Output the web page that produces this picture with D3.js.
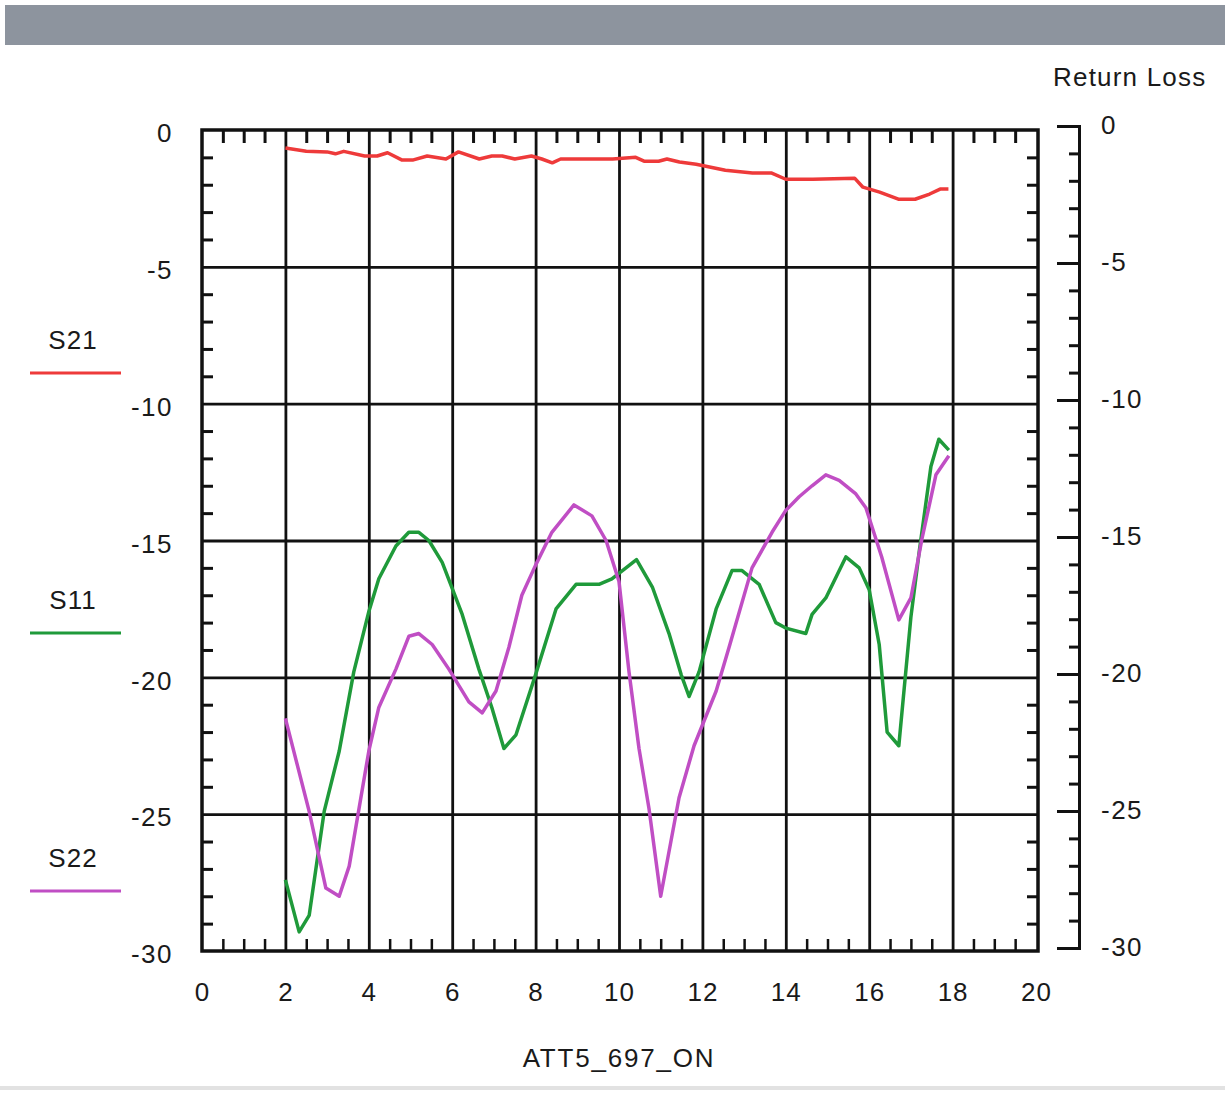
<!DOCTYPE html>
<html>
<head>
<meta charset="utf-8">
<script src="https://cdn.jsdelivr.net/npm/d3@7"></script>
<style>
  body { margin: 0; background: #fff; }
  text { font-family: "Liberation Sans", Arial, sans-serif; fill: #1a1a1a; }
  .axis path, .axis line { stroke: #111; }
</style>
</head>
<body>
<div id="chart"></div>
<script>
// Data (frequency in GHz, level in dB)
var xTicks = [0, 2, 4, 6, 8, 10, 12, 14, 16, 18, 20];
var yTicks = [0, -5, -10, -15, -20, -25, -30];
var seriesNames = ["S21", "S11", "S22"];
var seriesColors = ["#ee3a3a", "#1f9a3a", "#c04ec4"];

var s21Freq = [2.0, 2.5, 3.0, 3.2, 3.4, 3.9, 4.2, 4.45, 4.8, 5.05, 5.4, 5.85, 6.15, 6.65, 6.95, 7.2, 7.5, 7.9, 8.15, 8.4, 8.6, 9.5, 9.85, 10.4, 10.6, 10.95, 11.15, 11.45, 11.85, 12.55, 13.2, 13.65, 14.0, 14.65, 15.65, 15.85, 16.25, 16.7, 17.1, 17.45, 17.7, 17.9];
var s21 = [-0.66, -0.78, -0.8, -0.87, -0.78, -0.95, -0.95, -0.83, -1.1, -1.1, -0.95, -1.06, -0.8, -1.06, -0.95, -0.95, -1.06, -0.95, -1.06, -1.2, -1.06, -1.06, -1.06, -1.0, -1.14, -1.14, -1.06, -1.17, -1.25, -1.47, -1.57, -1.57, -1.8, -1.8, -1.76, -2.09, -2.27, -2.53, -2.53, -2.34, -2.16, -2.16];

var s11Freq = [2.0, 2.33, 2.57, 2.93, 3.29, 3.64, 4.0, 4.24, 4.65, 4.96, 5.2, 5.44, 5.76, 6.24, 6.64, 6.95, 7.24, 7.53, 8.0, 8.49, 8.97, 9.52, 9.83, 10.42, 10.8, 11.2, 11.49, 11.68, 11.92, 12.33, 12.71, 12.95, 13.36, 13.76, 14.0, 14.48, 14.63, 14.96, 15.44, 15.76, 16.0, 16.24, 16.43, 16.71, 17.0, 17.2, 17.48, 17.67, 17.91];
var s11 = [-27.4, -29.3, -28.7, -24.9, -22.7, -19.8, -17.6, -16.4, -15.2, -14.7, -14.7, -15.0, -15.8, -17.7, -19.7, -21.1, -22.6, -22.1, -19.9, -17.5, -16.6, -16.6, -16.4, -15.7, -16.7, -18.4, -19.9, -20.7, -19.8, -17.5, -16.1, -16.1, -16.6, -18.0, -18.2, -18.4, -17.7, -17.1, -15.6, -16.0, -16.8, -18.8, -22.0, -22.5, -17.8, -15.4, -12.3, -11.3, -11.7];

var s22Freq = [2.0, 2.57, 2.97, 3.29, 3.53, 4.0, 4.24, 4.65, 4.96, 5.2, 5.52, 5.92, 6.4, 6.72, 7.05, 7.36, 7.67, 8.0, 8.39, 8.92, 9.35, 9.69, 10.0, 10.24, 10.48, 10.72, 11.0, 11.44, 11.8, 12.33, 12.64, 13.19, 13.67, 14.0, 14.32, 14.63, 14.96, 15.28, 15.68, 15.92, 16.3, 16.71, 17.0, 17.27, 17.6, 17.91];
var s22 = [-21.5, -24.9, -27.7, -28.0, -26.9, -22.7, -21.1, -19.7, -18.5, -18.4, -18.8, -19.7, -20.9, -21.3, -20.5, -18.9, -17.0, -15.9, -14.7, -13.7, -14.1, -15.0, -16.5, -19.8, -22.6, -24.8, -28.0, -24.4, -22.5, -20.5, -18.9, -16.0, -14.7, -13.9, -13.4, -13.0, -12.6, -12.8, -13.3, -13.8, -15.6, -17.9, -17.1, -14.9, -12.6, -11.9];

// Chart area
var svgWidth = 1225;
var svgHeight = 1093;
var margin = { top: 130, right: 187, bottom: 142, left: 202 };
var width = svgWidth - margin.left - margin.right;   // 836
var height = svgHeight - margin.top - margin.bottom; // 821

var svg = d3.select("#chart")
  .append("svg")
  .attr("width", svgWidth)
  .attr("height", svgHeight);

// grey header band + faint footer line
svg.append("rect").attr("x", 5).attr("y", 5).attr("width", 1220).attr("height", 40).attr("fill", "#8d949e");
svg.append("rect").attr("x", 0).attr("y", 1086).attr("width", 1225).attr("height", 4).attr("fill", "#e2e2e2");

var chartGroup = svg.append("g")
  .attr("transform", `translate(${margin.left}, ${margin.top})`);

// Scales
var xScale = d3.scaleLinear().domain([0, 20]).range([0, width - 2]);
var yScale = d3.scaleLinear().domain([-30, 0]).range([height, 0]);
var fmt = d => String(d); // plain hyphen, not unicode minus

// Grid lines (major)
chartGroup.append("g")
  .attr("class", "axis")
  .attr("transform", `translate(0, ${height})`)
  .call(d3.axisBottom(xScale).tickValues(d3.range(2, 19, 2)).tickSize(-height).tickFormat(""))
  .call(g => g.select(".domain").remove())
  .selectAll("line").attr("stroke-width", 2.8);

chartGroup.append("g")
  .attr("class", "axis")
  .call(d3.axisLeft(yScale).tickValues([-5, -10, -15, -20, -25]).tickSize(-width).tickFormat(""))
  .call(g => g.select(".domain").remove())
  .selectAll("line").attr("stroke-width", 2.8);

// Minor inward ticks on all four sides of the frame
var xMinor = d3.range(0.5, 20, 0.5).filter(v => v % 2 !== 0);
var yMinor = d3.range(-29, 0, 1).filter(v => v % 5 !== 0);

chartGroup.append("g").attr("class", "axis")
  .call(d3.axisBottom(xScale).tickValues(xMinor).tickSize(13).tickFormat(""))
  .call(g => g.select(".domain").remove())
  .selectAll("line").attr("stroke-width", 3);

chartGroup.append("g").attr("class", "axis")
  .attr("transform", `translate(0, ${height})`)
  .call(d3.axisTop(xScale).tickValues(xMinor).tickSize(12).tickFormat(""))
  .call(g => g.select(".domain").remove())
  .selectAll("line").attr("stroke-width", 2.5);

chartGroup.append("g").attr("class", "axis")
  .call(d3.axisRight(yScale).tickValues(yMinor).tickSize(11).tickFormat(""))
  .call(g => g.select(".domain").remove())
  .selectAll("line").attr("stroke-width", 3);

chartGroup.append("g").attr("class", "axis")
  .attr("transform", `translate(${width}, 0)`)
  .call(d3.axisLeft(yScale).tickValues(yMinor).tickSize(11).tickFormat(""))
  .call(g => g.select(".domain").remove())
  .selectAll("line").attr("stroke-width", 3);

// Frame
chartGroup.append("rect")
  .attr("x", 0).attr("y", 0)
  .attr("width", width).attr("height", height)
  .attr("fill", "none").attr("stroke", "#111").attr("stroke-width", 3.5);

// Bottom axis labels
chartGroup.append("g")
  .attr("transform", `translate(0, ${height})`)
  .call(d3.axisBottom(xScale).tickValues(xTicks).tickSize(0).tickPadding(32).tickFormat(fmt))
  .call(g => g.select(".domain").remove())
  .selectAll("text")
  .style("font-size", "26px")
  .style("letter-spacing", "1px");

// Left axis labels
chartGroup.append("g")
  .call(d3.axisLeft(yScale).tickValues(yTicks).tickSize(0).tickPadding(29).tickFormat(fmt))
  .call(g => g.select(".domain").remove())
  .selectAll("text")
  .attr("dy", "0.45em")
  .style("font-size", "26px")
  .style("letter-spacing", "1.5px");

// Secondary "Return Loss" axis on the right
var rightX = width + 41;
var yRight = d3.scaleLinear().domain([-30, 0]).range([height - 3, -4]);

var rightAxis = chartGroup.append("g").attr("class", "axis")
  .attr("transform", `translate(${rightX}, 0)`);
rightAxis.append("g")
  .call(d3.axisLeft(yRight).tickValues(yMinor).tickSize(10).tickFormat(""))
  .call(g => g.select(".domain").attr("stroke-width", 3))
  .selectAll("line").attr("stroke-width", 3);
rightAxis.append("g")
  .call(d3.axisLeft(yRight).tickValues(yTicks).tickSize(22).tickFormat(""))
  .call(g => g.select(".domain").remove())
  .selectAll("line").attr("stroke-width", 3);
rightAxis.append("g")
  .call(d3.axisRight(yRight).tickValues(yTicks).tickSize(0).tickPadding(22).tickFormat(fmt))
  .call(g => g.select(".domain").remove())
  .selectAll("text")
  .attr("dy", "0.3em")
  .style("font-size", "26px")
  .style("letter-spacing", "1.5px");

svg.append("text")
  .attr("x", 1053).attr("y", 86)
  .style("font-size", "26px")
  .style("letter-spacing", "1.2px")
  .text("Return Loss");

svg.append("text")
  .attr("x", 619).attr("y", 1067)
  .attr("text-anchor", "middle")
  .style("font-size", "26px")
  .style("letter-spacing", "1.8px")
  .text("ATT5_697_ON");

// Traces
var line = d3.line()
  .x(d => xScale(d[0]))
  .y(d => yScale(d[1]));

var traces = [d3.zip(s21Freq, s21), d3.zip(s11Freq, s11), d3.zip(s22Freq, s22)];

chartGroup.append("g")
  .selectAll("path")
  .data(traces)
  .enter()
  .append("path")
  .attr("d", line)
  .attr("fill", "none")
  .attr("stroke", (d, i) => seriesColors[i])
  .attr("stroke-width", 3.5)
  .attr("stroke-linejoin", "round");

// Legend on the left
var legendY = [340, 600, 858];
var legend = svg.append("g")
  .selectAll("g")
  .data(seriesNames)
  .enter()
  .append("g")
  .attr("transform", (d, i) => `translate(0, ${legendY[i]})`);

legend.append("text")
  .attr("x", 73).attr("y", 9)
  .attr("text-anchor", "middle")
  .style("font-size", "26px")
  .style("letter-spacing", "1px")
  .text(d => d);

legend.append("line")
  .attr("x1", 30).attr("x2", 121)
  .attr("y1", 33).attr("y2", 33)
  .attr("stroke", (d, i) => seriesColors[i])
  .attr("stroke-width", 3);
</script>
</body>
</html>
